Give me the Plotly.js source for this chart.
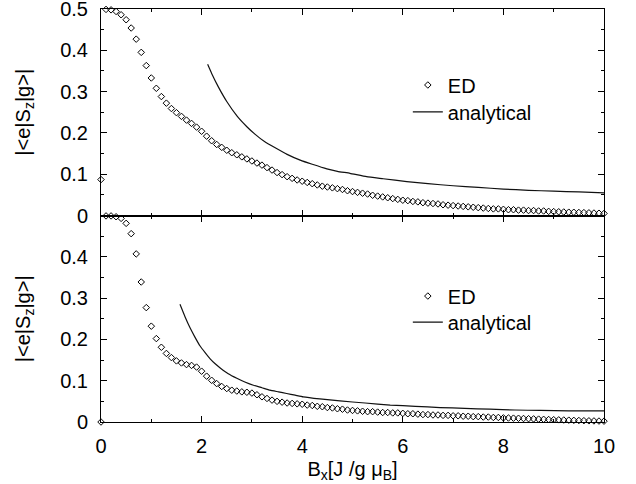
<!DOCTYPE html>
<html>
<head>
<meta charset="utf-8">
<script src="https://cdn.plot.ly/plotly-3.0.1.min.js"></script>
<style>html,body{margin:0;padding:0;background:#fff;}#chart{width:636px;height:484px;}</style>
</head>
<body>
<div id="chart"></div>
<script>
// Field values Bx for the ED data (units J/g muB)
const bx = [0,0.1,0.2,0.3,0.4,0.5,0.6,0.7,0.8,0.9,1.0,1.1,1.2,1.3,1.4,1.5,1.6,1.7,1.8,1.9,2.0,2.1,2.2,2.3,2.4,2.5,2.6,2.7,2.8,2.9,3.0,3.1,3.2,3.3,3.4,3.5,3.6,3.7,3.8,3.9,4.0,4.1,4.2,4.3,4.4,4.5,4.6,4.7,4.8,4.9,5.0,5.1,5.2,5.3,5.4,5.5,5.6,5.7,5.8,5.9,6.0,6.1,6.2,6.3,6.4,6.5,6.6,6.7,6.8,6.9,7.0,7.1,7.2,7.3,7.4,7.5,7.6,7.7,7.8,7.9,8.0,8.1,8.2,8.3,8.4,8.5,8.6,8.7,8.8,8.9,9.0,9.1,9.2,9.3,9.4,9.5,9.6,9.7,9.8,9.9,10.0];

// Upper panel: ED values
const edTop = [0.087,0.499,0.498,0.494,0.486,0.474,0.454,0.427,0.395,0.363,0.333,0.308,0.288,0.272,0.259,0.249,0.240,0.231,0.223,0.214,0.204,0.192,0.181,0.172,0.165,0.158,0.152,0.147,0.142,0.137,0.132,0.127,0.122,0.116,0.110,0.104,0.099,0.094,0.090,0.086,0.083,0.080,0.077,0.074,0.071,0.069,0.067,0.065,0.063,0.060,0.058,0.056,0.054,0.052,0.049,0.047,0.045,0.043,0.041,0.039,0.037,0.036,0.034,0.033,0.031,0.030,0.029,0.028,0.026,0.025,0.024,0.023,0.022,0.021,0.020,0.019,0.018,0.017,0.016,0.016,0.015,0.014,0.014,0.013,0.013,0.012,0.012,0.011,0.011,0.010,0.0095,0.009,0.0085,0.008,0.0078,0.0073,0.007,0.0065,0.006,0.0055,0.005];

// Lower panel: ED values
const edBot = [0,0.499,0.499,0.497,0.493,0.481,0.456,0.407,0.339,0.277,0.232,0.202,0.181,0.166,0.156,0.148,0.143,0.139,0.137,0.133,0.123,0.111,0.101,0.093,0.086,0.081,0.077,0.075,0.073,0.072,0.070,0.066,0.061,0.057,0.053,0.050,0.048,0.046,0.045,0.044,0.043,0.041,0.040,0.038,0.037,0.035,0.034,0.032,0.031,0.029,0.028,0.027,0.026,0.025,0.025,0.024,0.023,0.023,0.022,0.022,0.021,0.020,0.020,0.019,0.018,0.018,0.017,0.017,0.016,0.016,0.015,0.015,0.014,0.014,0.013,0.013,0.012,0.012,0.011,0.011,0.010,0.0097,0.0093,0.009,0.0085,0.008,0.0075,0.007,0.0065,0.006,0.0056,0.0052,0.0048,0.0044,0.004,0.0036,0.0032,0.0029,0.0026,0.0023,0.002];

// Upper panel: analytical curve
const anTopX = [2.12,2.20,2.33,2.50,2.71,2.90,3.06,3.25,3.49,3.70,3.96,4.20,4.49,4.70,4.95,5.28,5.61,6.08,6.5,7.0,7.5,8.0,8.5,9.0,9.5,10.0];
const anTopY = [0.366,0.344,0.312,0.276,0.240,0.215,0.197,0.179,0.162,0.148,0.134,0.124,0.113,0.107,0.102,0.094,0.089,0.082,0.077,0.072,0.068,0.064,0.061,0.059,0.057,0.055];

// Lower panel: analytical curve
const anBotX = [1.57,1.67,1.77,1.87,1.97,2.07,2.17,2.27,2.37,2.53,2.70,2.86,3.03,3.20,3.36,3.53,3.69,3.86,4.02,4.35,4.75,5.25,5.75,6.25,6.74,7.23,7.73,8.23,8.73,9.3,10.0];
const anBotY = [0.285,0.255,0.228,0.205,0.184,0.168,0.153,0.141,0.131,0.117,0.106,0.097,0.089,0.083,0.077,0.073,0.069,0.065,0.061,0.056,0.051,0.046,0.041,0.038,0.035,0.033,0.031,0.029,0.028,0.027,0.027];

const yTickValsTop = [0,0.1,0.2,0.3,0.4,0.5];
const yTickTop = ['0','0.1','0.2','0.3','0.4','0.5'];
const yTickValsBot = [0,0.1,0.2,0.3,0.4];
const yTickBot = ['0','0.1','0.2','0.3','0.4'];
const xTickVals = [0,2,4,6,8,10];
const xTickText = ['0','2','4','6','8','10'];

const FONT = 'Liberation Sans, Arial, Helvetica, sans-serif';
const FS = 20;

const marker = {symbol:'diamond-open', size:5, color:'#000', line:{width:1, color:'#000'}};
const line = {color:'#111', width:1.2, shape:'spline', smoothing:0.4};

const traces = [
  {x:bx, y:edTop, xaxis:'x2', yaxis:'y2', mode:'markers', name:'ED', marker:marker, cliponaxis:false, legend:'legend'},
  {x:anTopX, y:anTopY, xaxis:'x2', yaxis:'y2', mode:'lines', name:'analytical', line:line, legend:'legend2'},
  {x:bx, y:edBot, xaxis:'x', yaxis:'y', mode:'markers', name:'ED', marker:marker, cliponaxis:false, legend:'legend3'},
  {x:anBotX, y:anBotY, xaxis:'x', yaxis:'y', mode:'lines', name:'analytical', line:line, legend:'legend4'}
];

const axBase = {
  showline:true, linecolor:'#000', linewidth:1, mirror:'ticks',
  ticks:'inside', ticklen:6, tickwidth:1, tickcolor:'#000',
  showgrid:false, zeroline:false, ticklabeloverflow:'allow',
  tickfont:{family:FONT, size:FS, color:'#000'}
};

const yTitle = '|&lt;e|S<sub>z</sub>|g&gt;|';

function leg(y) {
  return {x:0.61, y:y, xanchor:'left', yanchor:'middle', bgcolor:'rgba(0,0,0,0)', borderwidth:0,
          font:{family:FONT, size:FS, color:'#000'}};
}

const layout = {
  width:636, height:484,
  margin:{l:101, r:32, t:9, b:62, pad:0},
  paper_bgcolor:'#fff', plot_bgcolor:'#fff',
  font:{family:FONT, size:FS, color:'#000'},
  xaxis: Object.assign({}, axBase, {
    domain:[0,1], anchor:'y', range:[0,10], tickvals:xTickVals, ticktext:xTickText,
    minor:{dtick:1, ticklen:3, ticks:'inside', tickcolor:'#000', showgrid:false},
    ticklabelstandoff:6,
    title:{text:'B<sub>x</sub>[J /g μ<sub>B</sub>]', font:{family:FONT, size:FS}, standoff:5}
  }),
  xaxis2: Object.assign({}, axBase, {
    domain:[0,1], anchor:'y2', range:[0,10], tickvals:xTickVals, showticklabels:false,
    minor:{dtick:1, ticklen:3, ticks:'inside', tickcolor:'#000', showgrid:false}
  }),
  yaxis: Object.assign({}, axBase, {
    domain:[0,0.5], anchor:'x', range:[0,0.5], tickvals:yTickValsBot, ticktext:yTickBot,
    minor:{dtick:0.05, ticklen:3, ticks:'inside', tickcolor:'#000', showgrid:false},
    ticklabelstandoff:8,
    title:{text:yTitle, font:{family:FONT, size:FS}, standoff:24}
  }),
  yaxis2: Object.assign({}, axBase, {
    domain:[0.5,1], anchor:'x2', range:[0,0.5], tickvals:yTickValsTop, ticktext:yTickTop,
    minor:{dtick:0.05, ticklen:3, ticks:'inside', tickcolor:'#000', showgrid:false},
    ticklabelstandoff:8,
    title:{text:yTitle, font:{family:FONT, size:FS}, standoff:24}
  }),
  showlegend:true,
  legend: leg(0.816),
  legend2: leg(0.751),
  legend3: leg(0.305),
  legend4: leg(0.242)
};

Plotly.newPlot('chart', traces, layout, {displayModeBar:false, staticPlot:true});
</script>
</body>
</html>
